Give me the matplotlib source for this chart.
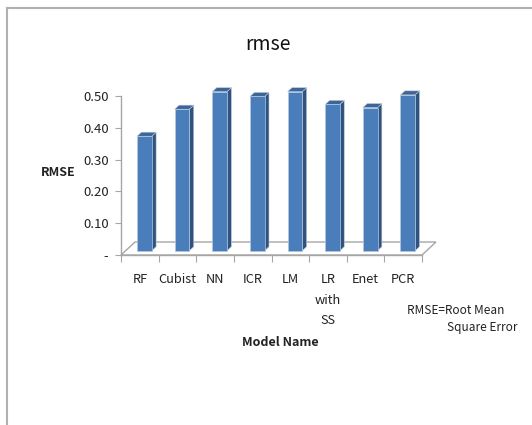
import matplotlib
matplotlib.use("Agg")
import matplotlib.pyplot as plt
from matplotlib.patches import Polygon
from matplotlib.lines import Line2D
import numpy as np

plt.rcParams['font.family'] = ['Noto Sans CJK JP', 'DejaVu Sans']

# Data
models = ["RF", "Cubist", "NN", "ICR", "LM", "LR\nwith\nSS", "Enet", "PCR"]
rmse = [0.36, 0.445, 0.50, 0.485, 0.50, 0.46, 0.45, 0.49]
yticks = [0.0, 0.1, 0.2, 0.3, 0.4, 0.5]
ytick_labels = ["-", "0.10", "0.20", "0.30", "0.40", "0.50"]

W, H, DPI = 532, 425, 100
fig = plt.figure(figsize=(W / DPI, H / DPI), dpi=DPI)
fig.patch.set_facecolor("white")

ax = fig.add_axes([121 / W, 1 - 255 / H, 301 / W, 159 / H])
ax.set_xlim(0, len(models))
ax.set_ylim(0, 0.5)
ax.set_facecolor("none")

grey = "#a6a6a6"
txt = "#222222"
for s in ["top", "right"]:
    ax.spines[s].set_visible(False)
for s in ["left", "bottom"]:
    ax.spines[s].set_color(grey)
    ax.spines[s].set_linewidth(1.0)

# depth offset (pixels at 100 dpi) of the floor's back edge
DX, DY = 14.0, 13.0
scale = fig.dpi / 100.0


def P(x, y, d):
    px, py = ax.transData.transform((x, y))
    return (px + d * DX * scale, py + d * DY * scale)


# floor
floor = [P(0, 0, 0), P(len(models), 0, 0), P(len(models), 0, 1), P(0, 0, 1)]
ax.add_patch(Polygon(floor, closed=True, transform=None, facecolor="white",
                     edgecolor=grey, linewidth=1.0, clip_on=False, zorder=1))

# 3-D columns
d0, d1 = 0.33, 0.64
half = 0.195
front_c, side_c, top_c = "#4a7ebb", "#30527f", "#3c6698"
for i, v in enumerate(rmse):
    xc = i + 0.5
    xl, xr = xc - half, xc + half
    front = [P(xl, 0, d0), P(xr, 0, d0), P(xr, v, d0), P(xl, v, d0)]
    side = [P(xr, 0, d0), P(xr, 0, d1), P(xr, v, d1), P(xr, v, d0)]
    top = [P(xl, v, d0), P(xr, v, d0), P(xr, v, d1), P(xl, v, d1)]
    ax.add_patch(Polygon(side, closed=True, transform=None, facecolor=side_c,
                         edgecolor="#b8c8dc", linewidth=0.4, clip_on=False, zorder=3))
    ax.add_patch(Polygon(top, closed=True, transform=None, facecolor=top_c,
                         edgecolor="#b8c8dc", linewidth=0.4, clip_on=False, zorder=3))
    ax.add_patch(Polygon(front, closed=True, transform=None, facecolor=front_c,
                         edgecolor="#b8c8dc", linewidth=0.5, clip_on=False, zorder=4))

# y axis
ax.set_yticks(yticks)
ax.set_yticklabels(ytick_labels)
ax.tick_params(axis="y", length=4, color=grey, labelsize=9.5, pad=5, labelcolor=txt)

# x axis: tick marks on category boundaries, labels at centres
ax.set_xticks(np.arange(len(models) + 1))
ax.set_xticklabels([])
ax.set_xticks(np.arange(len(models)) + 0.5, minor=True)
ax.set_xticklabels(models, minor=True, linespacing=1.75)
ax.tick_params(axis="x", which="major", length=5, color=grey)
ax.tick_params(axis="x", which="minor", length=0, labelsize=9.2, pad=13, labelcolor=txt)

# titles and labels
fig.text(268 / W, 1 - 44 / H, "rmse", ha="center", va="center", fontsize=14, color="#111111")
fig.text(58 / W, 1 - 172 / H, "RMSE", ha="center", va="center", fontsize=9,
         fontweight="bold", color=txt)
fig.text(280 / W, 1 - 342 / H, "Model Name", ha="center", va="center", fontsize=9,
         fontweight="bold", color=txt)
fig.text(407 / W, 1 - 311 / H, "RMSE=Root Mean", ha="left", va="center", fontsize=8.5,
         color=txt)
fig.text(447 / W, 1 - 328 / H, "Square Error", ha="left", va="center", fontsize=8.5,
         color=txt)

# chart-area frame (top and left edges)
fig.add_artist(Line2D([7 / W, 7 / W], [0, 1 - 8 / H], transform=fig.transFigure,
                      color="#b0b0b0", linewidth=1.5))
fig.add_artist(Line2D([7 / W, 1], [1 - 8 / H, 1 - 8 / H], transform=fig.transFigure,
                      color="#b0b0b0", linewidth=1.5))

fig.savefig("out.png", dpi=DPI)
